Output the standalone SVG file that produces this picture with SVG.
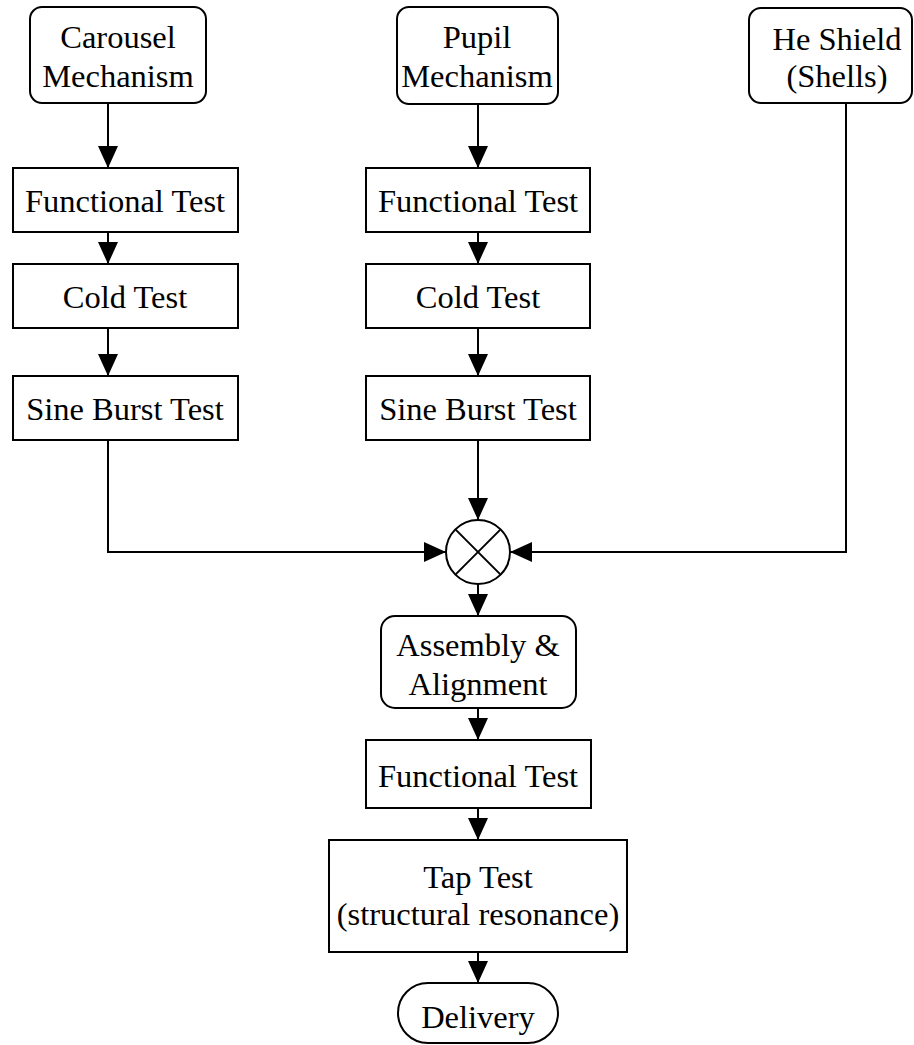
<svg xmlns="http://www.w3.org/2000/svg" width="914" height="1045" viewBox="0 0 914 1045">
<style>
.box{fill:#fff;stroke:#000;stroke-width:2}
.t{font-family:"Liberation Serif","Times New Roman",serif;font-size:32.5px;fill:#000;text-anchor:middle}
.c{fill:none;stroke:#000;stroke-width:2}
</style>
<defs>
<marker id="ah" markerUnits="userSpaceOnUse" markerWidth="22" markerHeight="20" refX="22" refY="10" orient="auto">
<path d="M0,0 L22,10 L0,20 z" fill="#000"/>
</marker>
</defs>
<rect width="914" height="1045" fill="#fff"/>
<g id="connectors">
<line class="c" x1="108" y1="103" x2="108" y2="168" marker-end="url(#ah)"/>
<line class="c" x1="108" y1="232" x2="108" y2="264" marker-end="url(#ah)"/>
<line class="c" x1="108" y1="328" x2="108" y2="376" marker-end="url(#ah)"/>
<line class="c" x1="478" y1="104" x2="478" y2="168" marker-end="url(#ah)"/>
<line class="c" x1="478" y1="232" x2="478" y2="264" marker-end="url(#ah)"/>
<line class="c" x1="478" y1="328" x2="478" y2="376" marker-end="url(#ah)"/>
<line class="c" x1="478" y1="440" x2="478" y2="520" marker-end="url(#ah)"/>
<polyline class="c" points="108,440 108,552 446,552" marker-end="url(#ah)"/>
<polyline class="c" points="846,103 846,552 510,552" marker-end="url(#ah)"/>
<line class="c" x1="478" y1="584" x2="478" y2="616" marker-end="url(#ah)"/>
<line class="c" x1="478" y1="708" x2="478" y2="740" marker-end="url(#ah)"/>
<line class="c" x1="478" y1="808" x2="478" y2="840" marker-end="url(#ah)"/>
<line class="c" x1="478" y1="952" x2="478" y2="983" marker-end="url(#ah)"/>
</g>
<g id="carousel">
<rect class="box" x="30" y="7" width="176" height="96" rx="12"/>
<text class="t" x="118" y="48">Carousel</text>
<text class="t" x="118" y="87">Mechanism</text>
</g>
<g id="c-functional">
<rect class="box" x="13" y="168" width="225" height="64"/>
<text class="t" x="125" y="212">Functional Test</text>
</g>
<g id="c-cold">
<rect class="box" x="13" y="264" width="225" height="64"/>
<text class="t" x="125" y="308">Cold Test</text>
</g>
<g id="c-sine">
<rect class="box" x="13" y="376" width="225" height="64"/>
<text class="t" x="125" y="420">Sine Burst Test</text>
</g>
<g id="pupil">
<rect class="box" x="397" y="7" width="161" height="97" rx="12"/>
<text class="t" x="477" y="48">Pupil</text>
<text class="t" x="477" y="87">Mechanism</text>
</g>
<g id="p-functional">
<rect class="box" x="366" y="168" width="224" height="64"/>
<text class="t" x="478" y="212">Functional Test</text>
</g>
<g id="p-cold">
<rect class="box" x="366" y="264" width="224" height="64"/>
<text class="t" x="478" y="308">Cold Test</text>
</g>
<g id="p-sine">
<rect class="box" x="366" y="376" width="224" height="64"/>
<text class="t" x="478" y="420">Sine Burst Test</text>
</g>
<g id="heshield">
<rect class="box" x="749" y="8" width="163" height="95" rx="12"/>
<text class="t" x="837" y="50">He Shield</text>
<text class="t" x="837" y="87">(Shells)</text>
</g>
<g id="junction">
<circle class="box" cx="478" cy="552" r="32"/>
<line class="c" x1="455.4" y1="529.4" x2="500.6" y2="574.6"/>
<line class="c" x1="500.6" y1="529.4" x2="455.4" y2="574.6"/>
</g>
<g id="assembly">
<rect class="box" x="381" y="616" width="195" height="92" rx="14"/>
<text class="t" x="478" y="656">Assembly &amp;</text>
<text class="t" x="478" y="695">Alignment</text>
</g>
<g id="functional">
<rect class="box" x="366" y="740" width="225" height="68"/>
<text class="t" x="478" y="787">Functional Test</text>
</g>
<g id="tap">
<rect class="box" x="329" y="840" width="298" height="112"/>
<text class="t" x="478" y="888">Tap Test</text>
<text class="t" x="478" y="925">(structural resonance)</text>
</g>
<g id="delivery">
<rect class="box" x="398" y="983" width="160" height="60" rx="30"/>
<text class="t" x="478" y="1028">Delivery</text>
</g>
</svg>
